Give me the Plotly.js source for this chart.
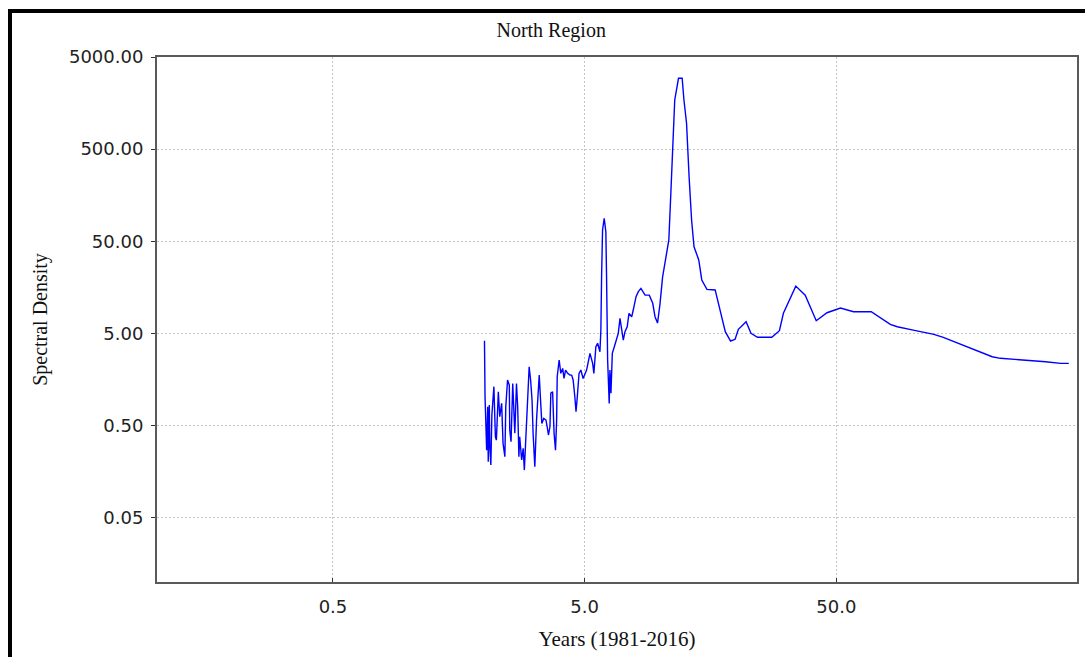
<!DOCTYPE html>
<html>
<head>
<meta charset="utf-8">
<script src="https://cdn.plot.ly/plotly-3.0.1.min.js"></script>
<style>
  html, body { margin: 0; padding: 0; background: #fff; }
  #wrap { position: relative; width: 1085px; height: 657px; overflow: hidden; }
  #chart { width: 1085px; height: 657px; }
  #frame { position: absolute; left: 8px; top: 9px; right: -10px; bottom: -10px;
           border-left: 4px solid #000; border-top: 4px solid #000; pointer-events: none; }
</style>
</head>
<body>
<div id="wrap">
  <div id="chart"></div>
  <div id="frame"></div>
</div>
<script>
// Period (x) and spectral density (y)
const periods = [
  2.00,2.01,2.04,2.06,2.07,2.09,2.10,2.12,2.14,2.16,
  2.18,2.21,2.23,2.27,2.30,2.34,2.37,2.41,2.43,2.47,
  2.51,2.52,2.55,2.59,2.61,2.64,2.68,2.71,2.74,2.76,
  2.81,2.85,2.88,2.91,2.94,2.98,3.01,3.05,3.09,3.12,
  3.17,3.22,3.27,3.30,3.34,3.38,3.44,3.51,3.55,3.59,
  3.64,3.67,3.73,3.78,3.83,3.87,3.89,3.96,4.02,4.09,
  4.14,4.20,4.28,4.37,4.44,4.50,4.57,4.62,4.67,4.75,
  4.83,4.93,5.09,5.25,5.38,5.44,5.54,5.63,5.75,5.80,
  5.84,5.89,5.98,6.07,6.11,6.17,6.26,6.30,6.36,6.44,
  6.56,6.70,6.80,6.91,7.02,7.12,7.23,7.38,7.50,7.69,
  7.80,8.00,8.17,8.37,8.69,9.03,9.32,9.52,9.74,9.96,
  10.2,10.4,10.8,11.0,11.2,11.4,11.8,12.2,12.4,12.7,
  13.0,13.3,13.6,14.2,14.6,15.3,16.5,17.0,18.1,19.0,
  19.8,20.4,21.9,22.9,24.3,27.7,29.7,30.8,32.3,34.5,
  37.6,41.6,45.9,51.9,58.5,68.8,81.9,87.3,101,122,
  133,165,208,224,257,295,339,389,419
];
const density = [
  4.16,1.03,0.270,0.799,0.202,0.833,0.294,0.186,0.649,0.985,
  1.32,0.377,0.347,1.16,0.622,0.869,0.320,0.229,0.799,1.56,
  1.37,0.446,0.333,1.43,0.869,0.411,1.43,0.799,0.229,0.377,
  0.211,0.282,0.164,0.320,0.735,1.49,2.17,1.56,0.944,0.411,
  0.178,0.573,1.32,1.76,0.944,0.527,0.597,0.573,0.484,0.394,
  0.484,1.12,1.16,0.411,0.270,0.573,1.69,2.57,1.84,2.08,
  1.62,2.00,1.84,1.76,1.76,1.56,1.03,0.705,0.985,1.84,
  2.00,1.62,2.00,3.03,2.36,1.84,3.58,3.90,3.16,5.43,
  21.5,66.2,88.7,63.4,20.6,2.57,0.869,2.00,1.12,3.03,
  3.58,4.23,5.00,7.28,5.43,4.23,5.21,5.90,8.25,7.58,
  8.96,12.5,14.2,15.4,13.0,13.0,10.6,7.58,6.47,10.4,
  20.4,28.8,51.6,166,451,1708,2938,2938,1708,954,
  251,85.0,43.6,31.3,19.0,15.0,14.8,10.6,5.21,4.13,
  4.31,5.53,6.69,5.00,4.53,4.53,5.34,8.25,11.0,16.3,
  13.0,6.86,8.37,9.42,8.59,8.59,6.27,5.90,5.43,4.88,
  4.53,3.58,2.79,2.68,2.61,2.55,2.46,2.36,2.36
];

const xTickVals = [0.5, 5, 50];
const xTickText = ['0.5', '5.0', '50.0'];
const yTickVals = [0.05, 0.5, 5, 50, 500, 5000];
const yTickText = ['0.05', '0.50', '5.00', '50.00', '500.00', '5000.00'];

const titleText = 'North Region';
const xTitle = 'Years (1981-2016)';
const yTitle = 'Spectral Density';

const serif = 'Liberation Serif, Times New Roman, serif';
const sans = 'DejaVu Sans, Verdana, sans-serif';

const trace = {
  x: periods, y: density, type: 'scatter', mode: 'lines',
  line: { color: '#0000ff', width: 1.4 },
  hoverinfo: 'skip'
};

const layout = {
  width: 1085, height: 657,
  margin: { l: 157, r: 8, t: 57, b: 75 },
  paper_bgcolor: '#ffffff', plot_bgcolor: '#ffffff',
  showlegend: false,
  title: {
    text: titleText, font: { family: serif, size: 20, color: '#111' },
    x: 0.508, xref: 'container', xanchor: 'center',
    y: 0.955, yref: 'container', yanchor: 'middle'
  },
  xaxis: {
    type: 'log', range: [-1, 2.655],
    tickmode: 'array', tickvals: xTickVals, ticktext: xTickText,
    ticks: 'inside', ticklen: 4, tickcolor: '#333', tickwidth: 1,
    tickfont: { family: sans, size: 18, color: '#222' },
    ticklabelstandoff: 7,
    showgrid: true, gridcolor: '#c4c4c4', gridwidth: 1, griddash: '2px,2px',
    showline: true, linecolor: '#5a5a5a', linewidth: 2, mirror: true,
    zeroline: false,
    title: { text: xTitle, font: { family: serif, size: 21, color: '#111' }, standoff: 16 }
  },
  yaxis: {
    type: 'log', range: [-2, 3.699],
    tickmode: 'array', tickvals: yTickVals, ticktext: yTickText,
    ticks: 'outside', ticklen: 4, tickcolor: '#333', tickwidth: 1,
    tickfont: { family: sans, size: 18, color: '#222' },
    ticklabelstandoff: 4,
    showgrid: true, gridcolor: '#c4c4c4', gridwidth: 1, griddash: '2px,2px',
    showline: true, linecolor: '#5a5a5a', linewidth: 2, mirror: true,
    zeroline: false,
    title: { text: yTitle, font: { family: serif, size: 20, color: '#111' }, standoff: 16 }
  }
};

Plotly.newPlot('chart', [trace], layout, { staticPlot: true, displayModeBar: false });
</script>
</body>
</html>
